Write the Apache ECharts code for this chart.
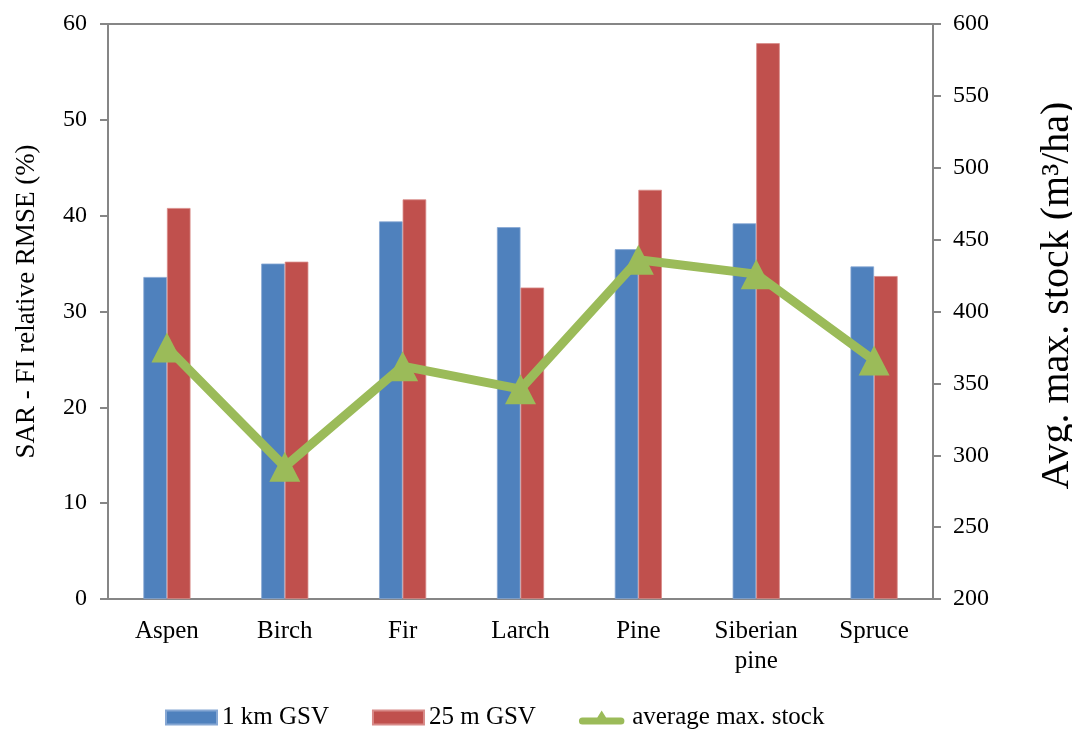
<!DOCTYPE html>
<html>
<head>
<meta charset="utf-8">
<title>SAR - FI relative RMSE by species</title>
<script src="https://cdn.jsdelivr.net/npm/echarts@6/dist/echarts.min.js"></script>
<style>
  html, body { margin: 0; padding: 0; background: #ffffff; }
  #chart { width: 1072px; height: 731px; }
</style>
</head>
<body>
<div id="chart"></div>
<script>
// Tree species along the x axis
const species = ['Aspen', 'Birch', 'Fir', 'Larch', 'Pine', 'Siberian\npine', 'Spruce'];

// Relative RMSE (%) of SAR vs. forest inventory
const gsv1km = [33.6, 35.0, 39.4, 38.8, 36.5, 39.2, 34.7];
const gsv25m = [40.8, 35.2, 41.7, 32.5, 42.7, 58.0, 33.7];

// Average maximum growing stock (m³/ha), right axis
const avgMaxStock = [375, 292, 362, 346, 436, 426, 366];

const fontFamily = '"Liberation Serif", "Times New Roman", serif';
const axisGray = '#868686';
const green = '#9BBB59';

// Legend glyph for the line series: thick rounded stroke with a triangle marker
const lineMarkerIcon = 'path://M4,9 L21,9 L26,1 L31,9 L48,9 A4,4 0 0 1 48,17 L31,17 L21,17 L4,17 A4,4 0 0 1 4,9 Z';

const chart = echarts.init(document.getElementById('chart'), null, { renderer: 'canvas' });

chart.setOption({
  animation: false,
  backgroundColor: '#ffffff',
  textStyle: { fontFamily: fontFamily, color: '#000' },
  grid: {
    left: 108, right: 139, top: 24, bottom: 132,
    outerBoundsMode: 'none', containLabel: false,
    show: true, borderColor: axisGray, borderWidth: 2, backgroundColor: 'transparent'
  },
  legend: {
    left: 165, top: 705, padding: 0,
    itemWidth: 51, itemHeight: 14, itemGap: 43,
    textStyle: { fontFamily: fontFamily, fontSize: 25, color: '#000' },
    data: [
      { name: '1 km GSV', icon: 'rect' },
      { name: '25 m GSV', icon: 'rect' },
      { name: 'average max. stock', icon: lineMarkerIcon, itemStyle: { color: green } }
    ]
  },
  xAxis: {
    type: 'category',
    data: species,
    axisLine: { lineStyle: { color: axisGray, width: 2 } },
    axisTick: { show: false },
    axisLabel: { fontFamily: fontFamily, fontSize: 25, color: '#000', margin: 17, lineHeight: 30, interval: 0 }
  },
  yAxis: [
    {
      type: 'value', min: 0, max: 60, interval: 10,
      name: 'SAR - FI relative RMSE (%)',
      nameLocation: 'middle', nameGap: 68,
      nameTextStyle: { fontFamily: fontFamily, fontSize: 27, color: '#000', padding: [0, 0, 0, 20] },
      axisLine: { show: true, lineStyle: { color: axisGray, width: 2 } },
      axisTick: { show: true, length: 8, inside: false, lineStyle: { color: axisGray, width: 2 } },
      axisLabel: { fontFamily: fontFamily, fontSize: 24, color: '#000', margin: 21 },
      splitLine: { show: false }
    },
    {
      type: 'value', min: 200, max: 600, interval: 50,
      name: 'Avg. max. stock (m³/ha)',
      nameLocation: 'middle', nameGap: 104, nameRotate: 90,
      nameTextStyle: { fontFamily: fontFamily, fontSize: 40, color: '#000', padding: [0, 0, 0, 32] },
      axisLine: { show: true, lineStyle: { color: axisGray, width: 2 } },
      axisTick: { show: true, length: 8, inside: false, lineStyle: { color: axisGray, width: 2 } },
      axisLabel: { fontFamily: fontFamily, fontSize: 24, color: '#000', margin: 20 },
      splitLine: { show: false }
    }
  ],
  series: [
    {
      name: '1 km GSV', type: 'bar', yAxisIndex: 0,
      data: gsv1km,
      barGap: '0%', barCategoryGap: '60%',
      itemStyle: { color: '#4F81BD', borderColor: '#86A7D3', borderWidth: 0.8 }
    },
    {
      name: '25 m GSV', type: 'bar', yAxisIndex: 0,
      data: gsv25m,
      barGap: '0%', barCategoryGap: '60%',
      itemStyle: { color: '#C0504D', borderColor: '#D88A88', borderWidth: 0.8 }
    },
    {
      name: 'average max. stock', type: 'line', yAxisIndex: 1,
      data: avgMaxStock,
      symbol: 'triangle', symbolSize: [31, 30],
      lineStyle: { color: green, width: 9 },
      itemStyle: { color: green },
      z: 5
    }
  ]
});
</script>
</body>
</html>
